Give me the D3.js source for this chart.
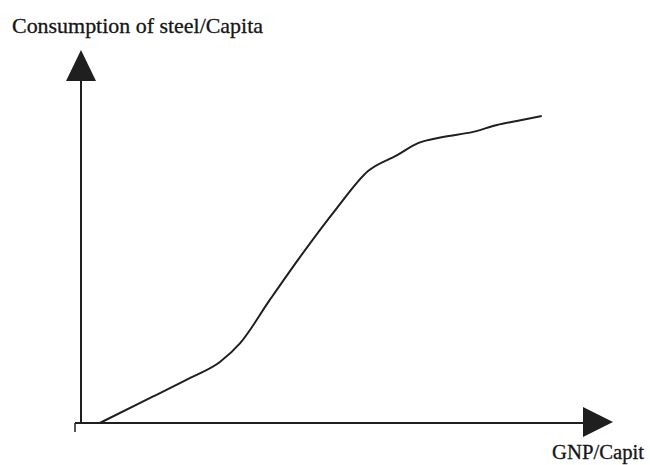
<!DOCTYPE html>
<html>
<head>
<meta charset="utf-8">
<script src="https://cdn.jsdelivr.net/npm/d3@7"></script>
<style>
  body { margin: 0; background: #fff; }
  text { font-family: "Liberation Serif", "DejaVu Serif", serif; fill: #161616; }
</style>
</head>
<body>
<div id="chart"></div>
<script>
// curve (GNP per capita vs steel per capita, arbitrary units)
const gnp   = [3.8, 13.5, 21.2, 26.9, 30.8, 36.5, 42.3, 49.4, 55.4, 61.0, 65.0, 69.8, 75.6, 80.2, 84.0, 88.8];
const steel = [0,   6.9,  12.4, 16.8, 22.0, 33.9, 45.7, 59.2, 69.4, 73.8, 77.1, 78.8, 80.2, 82.1, 83.2, 84.6];
const yTitle = "Consumption of steel/Capita";
const xTitle = "GNP/Capit";

var width = 650, height = 465;

var svg = d3.select("#chart")
    .append("svg")
    .attr("width", width)
    .attr("height", height);

var xScale = d3.scaleLinear().domain([0, 100]).range([80, 600]);
var yScale = d3.scaleLinear().domain([0, 100]).range([423, 60]);

var ink = "#1f1f1f";

// axes as plain lines
var x0 = xScale(0) + 1, y0 = yScale(0);

svg.append("line")
    .attr("x1", x0).attr("y1", y0)
    .attr("x2", x0).attr("y2", 81)
    .attr("stroke", ink).attr("stroke-width", 2);

svg.append("line")
    .attr("x1", x0 - 6).attr("y1", y0)
    .attr("x2", 584).attr("y2", y0)
    .attr("stroke", ink).attr("stroke-width", 2);

// little tick hanging at the origin
svg.append("line")
    .attr("x1", x0 - 6).attr("y1", y0)
    .attr("x2", x0 - 6).attr("y2", y0 + 9)
    .attr("stroke", ink).attr("stroke-width", 1.5);

// arrow heads
svg.append("path")
    .attr("d", `M${x0},50 L${x0 - 15},81 L${x0 + 15},81 Z`)
    .attr("fill", ink);

svg.append("path")
    .attr("d", `M613,${y0 - 1} L583,${y0 - 16} L583,${y0 + 14} Z`)
    .attr("fill", ink);

// the curve
var line = d3.line()
    .x(function(d, i) { return xScale(d); })
    .y(function(d, i) { return yScale(steel[i]); })
    .curve(d3.curveMonotoneX);

svg.append("path")
    .datum(gnp)
    .attr("d", line)
    .attr("fill", "none")
    .attr("stroke", ink)
    .attr("stroke-width", 2)
    .attr("stroke-linejoin", "round");

// labels
svg.append("text")
    .attr("x", 12).attr("y", 33)
    .attr("font-size", 21)
    .attr("textLength", 251)
    .attr("lengthAdjust", "spacingAndGlyphs")
    .attr("stroke", "#161616").attr("stroke-width", 0.3)
    .text(yTitle);

svg.append("text")
    .attr("x", 552).attr("y", 459)
    .attr("font-size", 20)
    .attr("textLength", 92)
    .attr("lengthAdjust", "spacingAndGlyphs")
    .attr("stroke", "#161616").attr("stroke-width", 0.3)
    .text(xTitle);
</script>
</body>
</html>
